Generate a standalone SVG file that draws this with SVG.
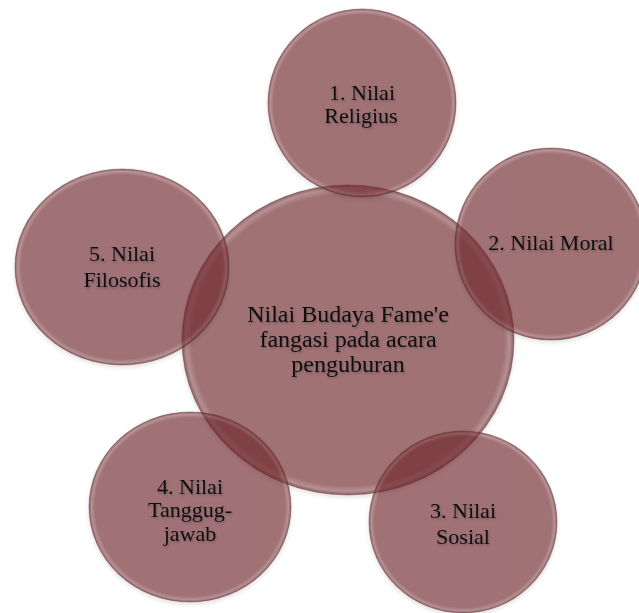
<svg xmlns="http://www.w3.org/2000/svg" width="639" height="613" viewBox="0 0 639 613">
<defs>
<radialGradient id="g" cx="50%" cy="50%" r="50%">
<stop offset="0" stop-color="#70262b" stop-opacity="0.6"/>
<stop offset="0.94" stop-color="#70262b" stop-opacity="0.6"/>
<stop offset="0.975" stop-color="#8a4a4f" stop-opacity="0.55"/>
<stop offset="1" stop-color="#5a2025" stop-opacity="0.7"/>
</radialGradient>
<filter id="sh" x="-10%" y="-10%" width="120%" height="125%">
<feDropShadow dx="0" dy="2" stdDeviation="2" flood-color="#000" flood-opacity="0.2"/>
</filter>
<filter id="ts" x="-10%" y="-20%" width="120%" height="150%">
<feDropShadow dx="1" dy="1.5" stdDeviation="1" flood-color="#000" flood-opacity="0.25"/>
</filter>
</defs>
<style>
.c{fill:url(#g);stroke:#6a2a2f;stroke-opacity:0.4;stroke-width:1;filter:url(#sh)}
.t{font-family:"Liberation Serif","Times New Roman",serif;font-size:22px;fill:#111;text-anchor:middle;filter:url(#ts)}
.tc{font-size:24px}
</style>
<rect width="639" height="613" fill="#fff"/>
<g id="center">
<ellipse class="c" cx="348" cy="340" rx="166" ry="155"/>
</g>
<g id="node1">
<ellipse class="c" cx="362" cy="103" rx="94" ry="94"/>
</g>
<g id="node2">
<ellipse class="c" cx="551" cy="244" rx="96" ry="96"/>
</g>
<g id="node3">
<ellipse class="c" cx="463" cy="522" rx="94" ry="91"/>
</g>
<g id="node4">
<ellipse class="c" cx="190" cy="507" rx="101" ry="95"/>
</g>
<g id="node5">
<ellipse class="c" cx="122" cy="267" rx="107" ry="98"/>
</g>
<g id="labels">
<text class="t tc" x="348" y="322">Nilai Budaya Fame'e</text>
<text class="t tc" x="348" y="347">fangasi pada acara</text>
<text class="t tc" x="348" y="372">penguburan</text>
<text class="t" x="362" y="100">1. Nilai</text>
<text class="t" x="361" y="123">Religius</text>
<text class="t" x="551" y="250">2. Nilai Moral</text>
<text class="t" x="463" y="518">3. Nilai</text>
<text class="t" x="463" y="544">Sosial</text>
<text class="t" x="190" y="494">4. Nilai</text>
<text class="t" x="190" y="517">Tanggug-</text>
<text class="t" x="190" y="541">jawab</text>
<text class="t" x="122" y="261">5. Nilai</text>
<text class="t" x="122" y="287">Filosofis</text>
</g>
</svg>
